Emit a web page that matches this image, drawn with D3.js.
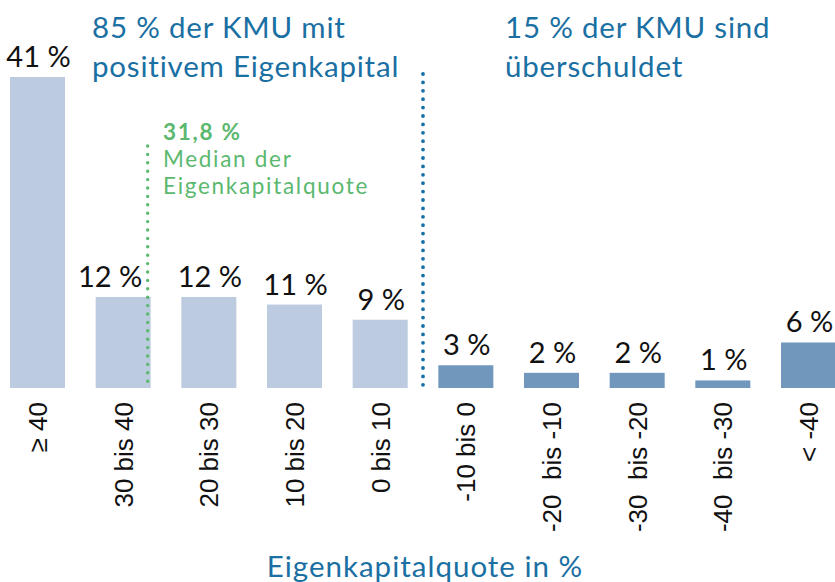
<!DOCTYPE html>
<html>
<head>
<meta charset="utf-8">
<script src="https://cdn.jsdelivr.net/npm/d3@7"></script>
<style>
  html, body { margin: 0; padding: 0; background: #fff; }
  svg { display: block; }
</style>
</head>
<body>
<svg id="chart" width="835" height="582"></svg>
<script>
// ---- data ----
const categories = ["≥ 40", "30 bis 40", "20 bis 30", "10 bis 20", "0 bis 10",
                    "-10 bis 0", "-20  bis -10", "-30  bis -20", "-40  bis -30", "< -40"];
const values = [41, 12, 12, 11, 9, 3, 2, 2, 1, 6];
const groups = ["positiv", "positiv", "positiv", "positiv", "positiv",
                "negativ", "negativ", "negativ", "negativ", "negativ"];
const medianValue = 31.8;
const medianLabel = "31,8 %";
const medianText = ["Median der", "Eigenkapitalquote"];
const headPositive = ["85 % der KMU mit", "positivem Eigenkapital"];
const headNegative = ["15 % der KMU sind", "überschuldet"];
const axisTitle = "Eigenkapitalquote in %";

// ---- layout ----
const svg = d3.select("#chart");
const baseY = 388;
const sansA = "Lato, 'Noto Sans', sans-serif";
const sansB = "'Liberation Sans', Arial, sans-serif";
const blue = "#1a6fa3";
const green = "#5bb86f";
const colour = d3.scaleOrdinal().domain(["positiv", "negativ"]).range(["#bccbdf", "#7197bd"]);

const x = d3.scaleBand().domain(categories).range([10, 836]).paddingInner(0.358).paddingOuter(0);
const y = d3.scaleLinear().domain([0, 41]).range([baseY, 77]);

// bars
svg.append("g").selectAll("rect").data(categories).join("rect")
  .attr("x", d => x(d))
  .attr("y", (d, i) => y(values[i]))
  .attr("width", x.bandwidth())
  .attr("height", (d, i) => y(0) - y(values[i]))
  .attr("fill", (d, i) => colour(groups[i]));

// value labels
svg.append("g").selectAll("text").data(categories).join("text")
  .attr("x", (d, i) => x(d) + x.bandwidth() / 2 + (i === 1 ? -13 : 1))
  .attr("y", (d, i) => y(values[i]) - 10)
  .attr("text-anchor", "middle")
  .style("font-family", sansA)
  .style("font-size", "29px")
  .attr("fill", "#111")
  .text((d, i) => values[i] + " %");

// category axis labels (rotated)
const xAxis = d3.axisBottom(x).tickSize(0).tickPadding(0);
const gx = svg.append("g").attr("transform", `translate(0,${baseY})`).call(xAxis);
gx.select(".domain").remove();
gx.selectAll(".tick text")
  .attr("transform", "translate(0,14) rotate(-90)")
  .attr("x", 0).attr("y", 0).attr("dy", "0.36em")
  .attr("text-anchor", "end")
  .style("white-space", "pre")
  .style("font-family", sansB)
  .style("font-size", "26px")
  .attr("fill", "#111");

// median dotted line
const medX = x(categories[1]) + x.bandwidth() * (1 - (medianValue - 30) / 10 * 0.1) - 2;
svg.append("line")
  .attr("x1", medX).attr("x2", medX)
  .attr("y1", 146).attr("y2", baseY)
  .attr("stroke", green).attr("stroke-width", 3.4)
  .attr("stroke-linecap", "round").attr("stroke-dasharray", "0 8.4");

// divider dotted line between groups
const divX = (x(categories[4]) + x.bandwidth() + x(categories[5])) / 2;
svg.append("line")
  .attr("x1", divX).attr("x2", divX)
  .attr("y1", 74).attr("y2", baseY)
  .attr("stroke", "#1570a8").attr("stroke-width", 3.8)
  .attr("stroke-linecap", "round").attr("stroke-dasharray", "0 8.4");

// median annotation
const medG = svg.append("g").style("font-family", sansA).attr("fill", green)
  .style("letter-spacing", "1.7px");
medG.append("text").attr("x", 163).attr("y", 140)
  .style("font-size", "22.5px").style("font-weight", "bold").text(medianLabel);
medG.selectAll("text.m").data(medianText).join("text").attr("class", "m")
  .attr("x", 163).attr("y", (d, i) => 167 + i * 27)
  .style("font-size", "22.5px").text(d => d);

// headings
const head = svg.append("g").style("font-family", sansA).style("font-size", "29.5px")
  .style("letter-spacing", "0.8px").attr("fill", blue);
head.selectAll("text.p").data(headPositive).join("text").attr("class", "p")
  .attr("x", 92).attr("y", (d, i) => 38 + i * 39).text(d => d);
head.selectAll("text.n").data(headNegative).join("text").attr("class", "n")
  .attr("x", 505).attr("y", (d, i) => 38 + i * 39).text(d => d);

// axis title
svg.append("text").attr("x", 425).attr("y", 577).attr("text-anchor", "middle")
  .style("font-family", sansA).style("font-size", "29.5px").style("letter-spacing", "1px")
  .attr("fill", blue)
  .text(axisTitle);
</script>
</body>
</html>
